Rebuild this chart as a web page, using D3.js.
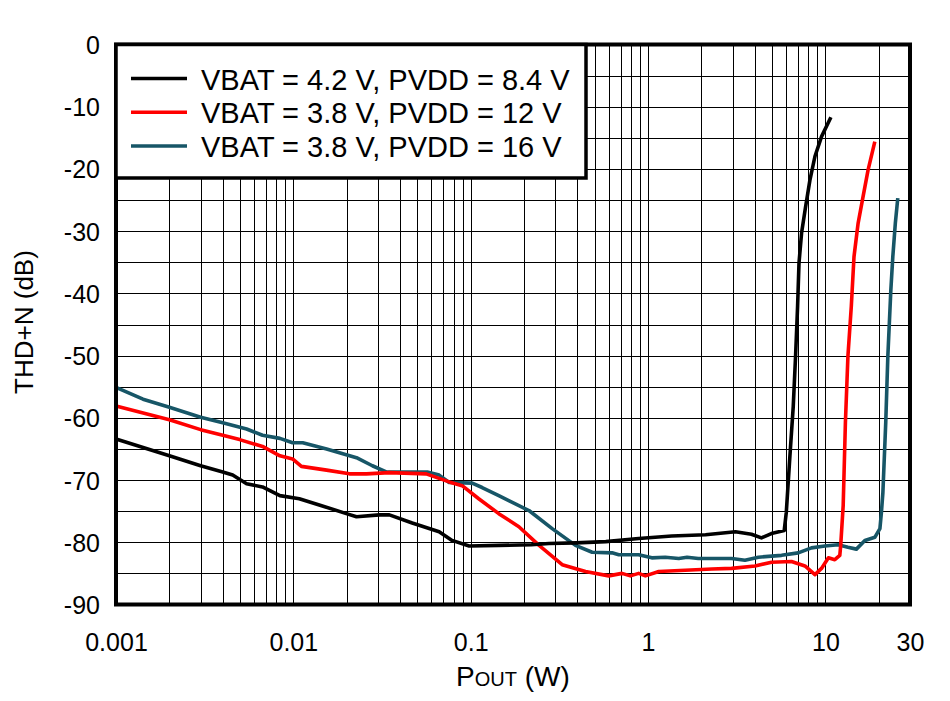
<!DOCTYPE html>
<html><head><meta charset="utf-8">
<script src="https://cdn.jsdelivr.net/npm/d3@7"></script>
<style>body{margin:0;background:#fff}svg{display:block}text{font-family:"Liberation Sans",Arial,sans-serif;fill:#000}</style>
</head><body>
<svg id="c" width="950" height="701"></svg>
<script>
const seriesNames = ["VBAT = 4.2 V, PVDD = 8.4 V","VBAT = 3.8 V, PVDD = 12 V","VBAT = 3.8 V, PVDD = 16 V"];
const seriesColors = ["#000000","#ff0000","#175667"];

const blackP = [0.001,0.002,0.003,0.004,0.00455,0.00545,0.0067,0.0084,0.0108,0.014,0.0199,0.0227,0.0305,0.0348,0.0468,0.0664,0.0785,0.098,0.144,0.22,0.276,0.392,0.578,0.885,1.36,2.11,3.11,3.83,4.36,4.96,5.86,6.02,6.31,6.59,6.79,6.97,7.10,7.34,7.73,8.18,8.73,9.51,10.74];
const blackDb = [-63.4,-66.1,-67.7,-68.7,-69.2,-70.6,-71.1,-72.5,-73.0,-74.0,-75.4,-75.9,-75.6,-75.6,-76.9,-78.3,-79.7,-80.6,-80.5,-80.4,-80.2,-80.1,-79.9,-79.4,-79.0,-78.8,-78.3,-78.7,-79.3,-78.6,-78.1,-75.2,-66.1,-58.1,-50.1,-42.1,-35.1,-30.3,-26.1,-21.8,-18.0,-14.8,-11.7];

const redP = [0.001,0.002,0.003,0.004,0.00498,0.0067,0.0084,0.0099,0.0111,0.0154,0.0207,0.0258,0.0348,0.0561,0.0756,0.0895,0.111,0.144,0.187,0.243,0.328,0.444,0.600,0.713,0.795,0.885,0.966,1.15,1.62,2.29,2.96,4.01,4.97,6.44,7.67,8.73,9.51,10.4,11.3,12.06,12.2,12.6,12.97,13.4,14.0,14.5,15.3,16.3,17.4,19.0];
const redDb = [-58.1,-60.3,-61.9,-62.8,-63.5,-64.6,-66.1,-66.6,-67.8,-68.4,-69.0,-69.0,-68.8,-69.0,-70.3,-70.9,-73.0,-75.4,-77.5,-80.5,-83.6,-84.7,-85.4,-85.0,-85.4,-85.0,-85.4,-84.7,-84.5,-84.3,-84.2,-83.8,-83.2,-83.1,-83.8,-85.2,-84.2,-82.5,-82.8,-82.1,-80.5,-74.1,-60.7,-50.1,-42.1,-34.1,-28.7,-24.5,-20.2,-15.6];

const tealP = [0.001,0.00142,0.002,0.003,0.004,0.00545,0.0067,0.0084,0.0099,0.0113,0.0154,0.0227,0.0279,0.0334,0.0433,0.0569,0.0664,0.0756,0.102,0.116,0.144,0.213,0.288,0.39,0.484,0.627,0.684,0.885,1.05,1.25,1.49,1.66,1.92,2.96,3.52,4.19,5.66,7.03,8.35,9.94,11.8,13.4,14.96,16.7,19.0,20.3,20.7,21.1,21.9,22.5,23.4,24.0,24.8,25.6];
const tealDb = [-55.1,-57.0,-58.3,-59.9,-60.8,-61.8,-62.8,-63.3,-64.0,-64.0,-65.0,-66.4,-67.7,-68.7,-68.7,-68.7,-69.2,-70.4,-70.5,-71.2,-72.5,-74.9,-77.8,-80.5,-81.6,-81.7,-82.0,-82.0,-82.5,-82.4,-82.6,-82.4,-82.6,-82.6,-82.9,-82.4,-82.1,-81.7,-80.9,-80.6,-80.4,-80.8,-81.1,-79.7,-79.2,-77.8,-75.2,-72.0,-60.7,-50.1,-39.4,-34.1,-28.7,-24.7];

const xTickValues = [0.001,0.01,0.1,1,10,30];
const xTickLabels = ["0.001","0.01","0.1","1","10","30"];
const yTickValues = [0,-10,-20,-30,-40,-50,-60,-70,-80,-90];
const xTitleMain = "P", xTitleSub = "OUT", xTitleEnd = " (W)";
const yTitle = "THD+N (dB)";

const L = 116, R = 910, T = 44.5, B = 604.5;
const svg = d3.select("#c");
const x = d3.scaleLog().domain([0.001, 30]).range([L, R]);
const y = d3.scaleLinear().domain([-90, 0]).range([B, T]);

// grid
const vGrid = [];
[0.001,0.01,0.1,1,10].forEach(d => { for (let k = 1; k <= 9; k++) { const v = d*k; if (v <= 30) vGrid.push(v); } });
vGrid.push(20, 30);
const g = svg.append("g").attr("shape-rendering","crispEdges");
g.selectAll("line.v").data(vGrid).join("line").attr("class","v")
  .attr("x1", d => Math.round(x(d))+0.5).attr("x2", d => Math.round(x(d))+0.5).attr("y1", T).attr("y2", B)
  .attr("stroke","#000").attr("stroke-width",1);
const hGrid = d3.range(-90, 0.1, 5);
g.selectAll("line.h").data(hGrid).join("line").attr("class","h")
  .attr("y1", d => Math.round(y(d))+0.5).attr("y2", d => Math.round(y(d))+0.5).attr("x1", L).attr("x2", R)
  .attr("stroke","#000").attr("stroke-width",1);

// curves
const series = [
  {p: tealP, v: tealDb, c: seriesColors[2]},
  {p: redP, v: redDb, c: seriesColors[1]},
  {p: blackP, v: blackDb, c: seriesColors[0]}
];
const line = d3.line().x(d => x(d[0])).y(d => y(d[1]));
series.forEach(s => {
  svg.append("path").datum(s.p.map((p,i) => [p, s.v[i]]))
    .attr("d", line).attr("fill","none").attr("stroke", s.c).attr("stroke-width",3.6)
    .attr("stroke-linejoin","round");
});

// frame
svg.append("rect").attr("x",L).attr("y",T).attr("width",R-L).attr("height",B-T)
  .attr("fill","none").attr("stroke","#000").attr("stroke-width",4);

// legend
const lg = svg.append("g");
lg.append("rect").attr("x",116).attr("y",44.5).attr("width",470).attr("height",133.5)
  .attr("fill","#fff").attr("stroke","#000").attr("stroke-width",3.5);
const legendOrder = [0,1,2];
legendOrder.forEach((i, k) => {
  const yy = 78.5 + k*33.8;
  lg.append("line").attr("x1",131).attr("x2",187).attr("y1",yy).attr("y2",yy)
    .attr("stroke", seriesColors[i]).attr("stroke-width",3.5);
  lg.append("text").attr("x",201).attr("y",yy+11).attr("font-size",29).text(seriesNames[i]);
});

// axes (labels only)
const xAxis = d3.axisBottom(x).tickValues(xTickValues).tickFormat((d,i) => xTickLabels[i]).tickSize(0).tickPadding(0);
const xa = svg.append("g").attr("transform",`translate(0,${B})`).call(xAxis);
xa.select(".domain").remove();
xa.selectAll("text").attr("font-size",25).attr("y",0).attr("dy",0).attr("transform","translate(0,46)")
  .style("font-family","'Liberation Sans',Arial,sans-serif").attr("fill","#000");

const yAxis = d3.axisLeft(y).tickValues(yTickValues).tickFormat(d => d).tickSize(0).tickPadding(16);
const ya = svg.append("g").attr("transform",`translate(${L},0)`).call(yAxis);
ya.select(".domain").remove();
ya.selectAll("text").attr("font-size",25).attr("dy","0.36em")
  .style("font-family","'Liberation Sans',Arial,sans-serif").attr("fill","#000");

// titles
const xt = svg.append("text").attr("x",(L+R)/2).attr("y",686).attr("text-anchor","middle").attr("font-size",28);
xt.append("tspan").text(xTitleMain);
xt.append("tspan").attr("font-size",20).text(xTitleSub);
xt.append("tspan").text(xTitleEnd);

svg.append("text").attr("transform","translate(33,322) rotate(-90)").attr("text-anchor","middle")
  .attr("font-size",26).text(yTitle);
</script>
</body></html>
